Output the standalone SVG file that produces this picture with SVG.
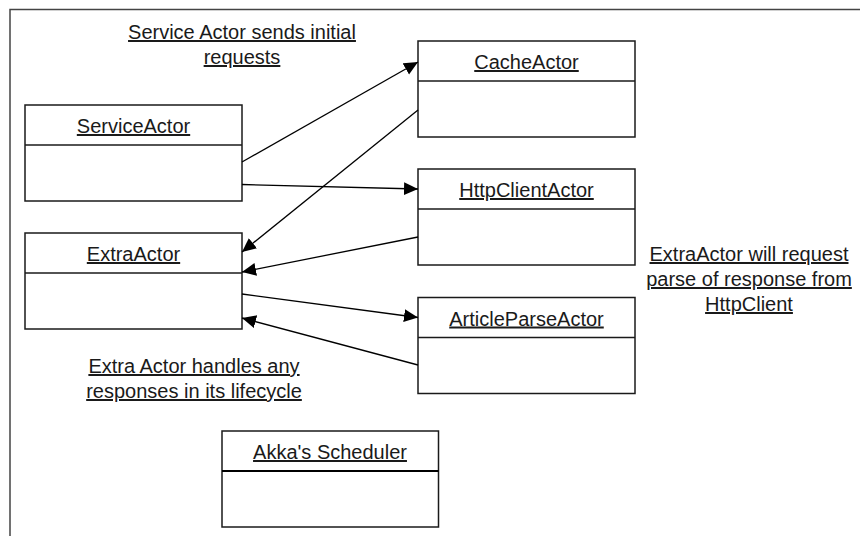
<svg xmlns="http://www.w3.org/2000/svg" width="860" height="536" viewBox="0 0 860 536">
<style>
.box{fill:#fff;stroke:#1a1a1a;stroke-width:1.5}
.div{stroke:#1a1a1a;stroke-width:1.5}
.lbl{font-family:"Liberation Sans",Arial,sans-serif;font-size:20px;fill:#1a1a1a;text-anchor:middle;text-decoration:underline}
.con{stroke:#000;stroke-width:1.3;fill:none;marker-end:url(#ah)}
</style>
<defs>
<marker id="ah" markerUnits="userSpaceOnUse" markerWidth="15" markerHeight="14" refX="14" refY="6.5" orient="auto">
<path d="M0,0 L14,6.5 L0,13 z" fill="#000"/>
</marker>
</defs>
<rect width="860" height="536" fill="#fff"/>
<path d="M10,536 V9.5 H860" fill="none" stroke="#444" stroke-width="1.5"/>

<g id="note-service">
<text class="lbl" x="242" y="39">Service Actor sends initial</text>
<text class="lbl" x="242" y="64">requests</text>
</g>
<g id="note-extra">
<text class="lbl" x="749" y="261">ExtraActor will request</text>
<text class="lbl" x="749" y="286">parse of response from</text>
<text class="lbl" x="749" y="311">HttpClient</text>
</g>
<g id="note-handles">
<text class="lbl" x="194" y="373">Extra Actor handles any</text>
<text class="lbl" x="194" y="398">responses in its lifecycle</text>
</g>

<g id="ServiceActor">
<rect class="box" x="25" y="105" width="217" height="96"/>
<line class="div" x1="25" y1="145" x2="242" y2="145"/>
<text class="lbl" x="133.5" y="133">ServiceActor</text>
</g>
<g id="ExtraActor">
<rect class="box" x="25" y="233" width="217" height="96"/>
<line class="div" x1="25" y1="273" x2="242" y2="273"/>
<text class="lbl" x="133.5" y="261">ExtraActor</text>
</g>
<g id="CacheActor">
<rect class="box" x="418" y="41" width="217" height="96"/>
<line class="div" x1="418" y1="81" x2="635" y2="81"/>
<text class="lbl" x="526.5" y="69">CacheActor</text>
</g>
<g id="HttpClientActor">
<rect class="box" x="418" y="169" width="217" height="96"/>
<line class="div" x1="418" y1="209" x2="635" y2="209"/>
<text class="lbl" x="526.5" y="197">HttpClientActor</text>
</g>
<g id="ArticleParseActor">
<rect class="box" x="418" y="297.5" width="217" height="96"/>
<line class="div" x1="418" y1="337.5" x2="635" y2="337.5"/>
<text class="lbl" x="526.5" y="325.5">ArticleParseActor</text>
</g>
<g id="AkkaScheduler">
<rect class="box" x="222" y="431" width="216.5" height="96"/>
<line x1="222" y1="471" x2="438.5" y2="471" stroke="#000" stroke-width="2"/>
<text class="lbl" x="330" y="459">Akka's Scheduler</text>
</g>

<g id="connectors">
<line class="con" x1="242" y1="162" x2="418" y2="62"/>
<line class="con" x1="242" y1="184.5" x2="418" y2="189"/>
<line class="con" x1="418" y1="110" x2="242" y2="252"/>
<line class="con" x1="418" y1="237" x2="242" y2="272"/>
<line class="con" x1="242" y1="294" x2="418" y2="317.5"/>
<line class="con" x1="418" y1="365" x2="242" y2="318"/>
</g>
</svg>
